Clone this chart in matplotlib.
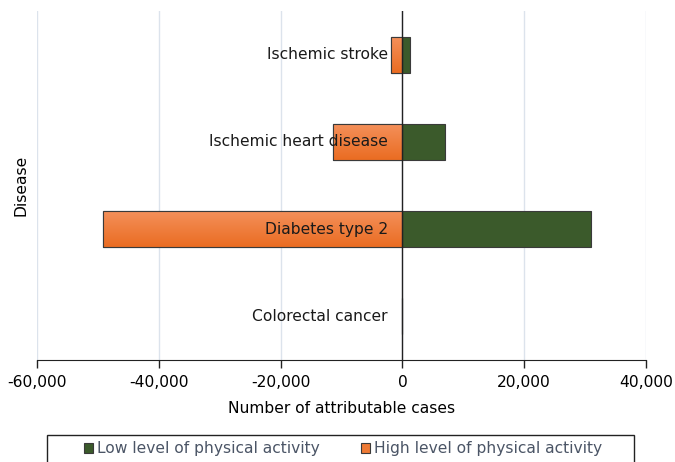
import matplotlib
matplotlib.use("Agg")
import matplotlib.pyplot as plt
import numpy as np
from matplotlib.patches import Rectangle
from matplotlib.colors import LinearSegmentedColormap
from matplotlib.ticker import FuncFormatter

diseases = ["Colorectal cancer", "Diabetes type 2", "Ischemic heart disease", "Ischemic stroke"]
low_activity = [0, 31000, 7000, 1200]
high_activity = [0, -49200, -11400, -1900]
x_ticks = [-60000, -40000, -20000, 0, 20000, 40000]

FS = 11.2
plt.rcParams['font.family'] = ['DejaVu Sans']
fig = plt.figure(figsize=(6.75, 4.62), dpi=100)
ax = fig.add_axes([37/675, 1-360/462, (646-37)/675, (360-11)/462])

green = "#3b5a2b"
edge = "#3a3a3a"
h = 0.41
y = np.arange(len(diseases))

orange_cmap = LinearSegmentedColormap.from_list("og", ["#f4905a", "#ea6c22"])
grad = np.linspace(0, 1, 100).reshape(-1, 1)

ax.barh(y, low_activity, height=h, color=green, edgecolor=edge, linewidth=0.8, zorder=3,
        label="Low level of physical activity")
hb = ax.barh(y, high_activity, height=h, color="#ee7a35", edgecolor=edge, linewidth=0.8, zorder=3,
             label="High level of physical activity")
for rect, v in zip(hb, high_activity):
    if v == 0:
        continue
    x0, y0, w, hh = rect.get_x(), rect.get_y(), rect.get_width(), rect.get_height()
    im = ax.imshow(grad, cmap=orange_cmap, aspect='auto', origin='upper',
                   extent=[x0, x0 + w, y0, y0 + hh], zorder=3.5)
    im.set_clip_path(rect)
    r2 = Rectangle((x0, y0), w, hh, fill=False, edgecolor=edge, linewidth=0.8, zorder=3.6)
    ax.add_patch(r2)

for yi, name in zip(y, diseases):
    ax.annotate(name, xy=(0, yi), xytext=(-10.5, 0), textcoords="offset points",
                ha="right", va="center", fontsize=FS, color="#1a1a1a", zorder=5)

ax.axvline(0, color="#222222", linewidth=1.0, zorder=4)
ax.set_xlim(-60000, 40000)
ax.set_ylim(-0.5, 3.5)
ax.set_xticks(x_ticks)
ax.xaxis.set_major_formatter(FuncFormatter(lambda v, p: f"{int(v):,}"))
ax.set_yticks([])
ax.grid(axis="x", color="#dce3ec", linewidth=1.0, zorder=0)
for s in ["left", "right", "top"]:
    ax.spines[s].set_visible(False)
ax.spines["bottom"].set_color("#222222")
ax.tick_params(axis="x", length=6, width=1, color="#222222", labelsize=FS, pad=4.5)
ax.set_xlabel("Number of attributable cases", fontsize=FS, labelpad=8)
ax.set_ylabel("Disease", fontsize=FS, labelpad=6)

handles, labels = ax.get_legend_handles_labels()
leg = fig.legend(handles, labels, loc="center", bbox_to_anchor=(343/675, 1-449/462),
                 ncol=2, frameon=False, fontsize=FS, handlelength=0.6, handleheight=0.6,
                 handletextpad=0.25, columnspacing=2.6, borderpad=0.0,
                 labelcolor="#4b5566")
leg.legend_handles[1].set_facecolor("#ee7a35")
fig.patches.append(Rectangle((47/675, -0.05), (634-47)/675, 0.05 + (462-435)/462,
                             transform=fig.transFigure, fill=False, edgecolor="#222222",
                             linewidth=1.0))

fig.savefig("out.png", dpi=100)
